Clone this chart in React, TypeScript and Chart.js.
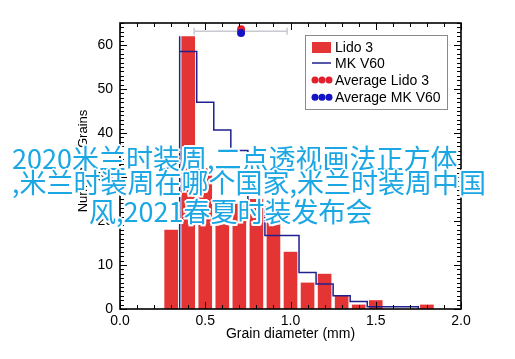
import React, { useEffect, useRef } from "react";
import { Chart, registerables } from "chart.js";

Chart.register(...registerables);

// ---- data ----
const lidoBinCenters = [0.3, 0.4, 0.5, 0.6, 0.7, 0.8, 0.9, 1.0, 1.1, 1.2, 1.3, 1.4, 1.5, 1.8];
const lidoCounts = [18, 62, 32, 23, 24, 25, 23, 13, 6, 8, 3, 1, 2, 1];

const mkBinCenters = [0.4, 0.5, 0.6, 0.7, 0.8, 0.9, 1.0, 1.1, 1.2, 1.3, 1.4, 1.5, 1.6, 1.7];
const mkCounts = [62, 58.5, 47, 40.7, 36, 23.2, 16.7, 16.7, 8.3, 5.7, 3, 1.7, 0.5, 0.5];
const binWidth = 0.1;

const averageNames = ["Average Lido 3", "Average MK V60"];
const averageDiameters = [0.71, 0.71];
const averageHeights = [63.6, 62.7];
const averageRange = [0.435, 0.98];
const averageRangeHeight = 63.1;

const legendLabels = ["Lido 3", "MK V60", "Average Lido 3", "Average MK V60"];
const xTitle = "Grain diameter (mm)";
const yTitle = "Number of Grains";
const overlayLines = [
  "2020米兰时装周,二点透视画法正方体",
  ",米兰时装周在哪个国家,米兰时装周中国",
  "风,2021春夏时装发布会",
];

const RED = "#e53434";
const NAVY = "#20208e";
const DOT_RED = "#e0202c";
const DOT_BLUE = "#1414c4";
const FONT = "'Liberation Sans', Arial, Helvetica, sans-serif";

const framePlugin = {
  id: "frameTicks",
  afterDatasetsDraw(chart: any) {
    const { ctx, chartArea } = chart;
    const xs = chart.scales.x;
    const ys = chart.scales.y;
    ctx.save();
    ctx.strokeStyle = "#000";
    ctx.lineWidth = 1;
    ctx.beginPath();
    for (let i = 0; i <= 65; i++) {
      const py = Math.round(ys.getPixelForValue(i)) + 0.5;
      const len = i % 10 === 0 ? 7 : 4;
      ctx.moveTo(chartArea.left, py);
      ctx.lineTo(chartArea.left + len, py);
      ctx.moveTo(chartArea.right, py);
      ctx.lineTo(chartArea.right - len, py);
    }
    for (let i = 0; i <= 20; i++) {
      const px = Math.round(xs.getPixelForValue(i / 10)) + 0.5;
      const len = i % 5 === 0 ? 7 : 4;
      ctx.moveTo(px, chartArea.bottom);
      ctx.lineTo(px, chartArea.bottom - len);
      ctx.moveTo(px, chartArea.top);
      ctx.lineTo(px, chartArea.top + len);
    }
    ctx.stroke();
    ctx.lineWidth = 1.6;
    ctx.strokeRect(chartArea.left, chartArea.top, chartArea.right - chartArea.left, chartArea.bottom - chartArea.top);
    ctx.restore();
  },
  afterDraw(chart: any) {
    const { ctx, chartArea } = chart;
    ctx.save();
    // axis titles
    ctx.fillStyle = "#000";
    ctx.font = `14px ${FONT}`;
    ctx.textAlign = "center";
    ctx.textBaseline = "middle";
    ctx.fillText(xTitle, (chartArea.left + chartArea.right) / 2, chartArea.bottom + 25);
    ctx.save();
    ctx.translate(chartArea.left - 37, chartArea.top + 138);
    ctx.rotate(-Math.PI / 2);
    ctx.font = `13px ${FONT}`;
    ctx.fillText(yTitle, 0, 0);
    ctx.restore();

    // legend
    const bx = chartArea.right - 156;
    const by = chartArea.top + 12;
    const bw = 142;
    const bh = 74;
    ctx.fillStyle = "#fff";
    ctx.fillRect(bx, by, bw, bh);
    ctx.strokeStyle = "#8a8a8a";
    ctx.lineWidth = 1;
    ctx.strokeRect(bx + 0.5, by + 0.5, bw, bh);
    const rows = [12.5, 28, 45, 62.3];
    const sx = bx + 7;
    ctx.font = `14px ${FONT}`;
    ctx.textAlign = "left";
    legendLabels.forEach((lab, i) => {
      const cy = by + rows[i];
      if (i === 0) {
        ctx.fillStyle = RED;
        ctx.fillRect(sx, cy - 5.5, 19, 11);
      } else if (i === 1) {
        ctx.strokeStyle = NAVY;
        ctx.lineWidth = 1.5;
        ctx.beginPath();
        ctx.moveTo(sx, cy);
        ctx.lineTo(sx + 19, cy);
        ctx.stroke();
      } else {
        ctx.fillStyle = i === 2 ? DOT_RED : DOT_BLUE;
        for (let k = 0; k < 3; k++) {
          ctx.beginPath();
          ctx.arc(sx + 3 + k * 7, cy, 3.5, 0, Math.PI * 2);
          ctx.fill();
        }
      }
      ctx.fillStyle = "#000";
      ctx.fillText(lab, sx + 23, cy + 1);
    });
    ctx.restore();
  },
};

function buildSteps() {
  const half = binWidth / 2;
  const pts: { x: number; y: number }[] = [];
  pts.push({ x: mkBinCenters[0] - half, y: 0 });
  mkBinCenters.forEach((c, i) => pts.push({ x: c - half, y: mkCounts[i] }));
  const last = mkBinCenters.length - 1;
  pts.push({ x: mkBinCenters[last] + half, y: mkCounts[last] });
  pts.push({ x: mkBinCenters[last] + half, y: 0 });
  return pts;
}

export default function App() {
  const ref = useRef<HTMLCanvasElement | null>(null);
  useEffect(() => {
    if (!ref.current) return;
    const chart = new Chart(ref.current, {
      type: "bar",
      data: {
        datasets: [
          {
            type: "bar",
            label: "Lido 3",
            data: lidoBinCenters.map((x, i) => ({ x, y: lidoCounts[i] })),
            backgroundColor: RED,
            borderWidth: 0,
            barPercentage: 0.8,
            categoryPercentage: 1,
            order: 5,
          } as any,
          {
            type: "line",
            label: "MK V60",
            data: buildSteps(),
            stepped: "after",
            borderColor: NAVY,
            borderWidth: 1.5,
            pointRadius: 0,
            fill: false,
            order: 4,
          } as any,
          {
            type: "line",
            label: "range",
            data: averageRange.map((x) => ({ x, y: averageRangeHeight })),
            borderColor: "#c9c9d2",
            borderWidth: 1.5,
            pointStyle: "line",
            rotation: 90,
            pointRadius: 3.5,
            pointBorderColor: "#c9c9d2",
            pointBorderWidth: 1.5,
            clip: false,
            order: 3,
          } as any,
          {
            type: "line",
            label: averageNames[0],
            data: [{ x: averageDiameters[0], y: averageHeights[0] }],
            showLine: false,
            pointRadius: 4,
            pointBackgroundColor: DOT_RED,
            pointBorderColor: DOT_RED,
            pointBorderWidth: 0,
            clip: false,
            order: 2,
          } as any,
          {
            type: "line",
            label: averageNames[1],
            data: [{ x: averageDiameters[1], y: averageHeights[1] }],
            showLine: false,
            pointRadius: 4,
            pointBackgroundColor: DOT_BLUE,
            pointBorderColor: DOT_BLUE,
            pointBorderWidth: 0,
            clip: false,
            order: 1,
          } as any,
        ],
      },
      options: {
        animation: false,
        responsive: false,
        devicePixelRatio: 1,
        layout: { padding: { top: 23, right: 54, left: 0, bottom: 0 } },
        plugins: { legend: { display: false }, tooltip: { enabled: false } },
        events: [],
        scales: {
          x: {
            type: "linear",
            min: 0,
            max: 2,
            offset: false,
            grid: { display: false, drawTicks: false },
            border: { display: false },
            ticks: {
              stepSize: 0.5,
              includeBounds: false,
              padding: 4,
              color: "#000",
              font: { family: FONT, size: 14 },
              maxRotation: 0,
              callback: (v: any) => Number(v).toFixed(1),
            },
            afterFit: (s: any) => {
              s.height = 50;
            },
          },
          y: {
            type: "linear",
            min: 0,
            max: 65,
            grid: { display: false, drawTicks: false },
            border: { display: false },
            ticks: {
              stepSize: 10,
              includeBounds: false,
              padding: 7,
              color: "#000",
              font: { family: FONT, size: 14 },
            },
            afterFit: (s: any) => {
              s.width = 120;
            },
          },
        },
      } as any,
      plugins: [framePlugin],
    });
    return () => chart.destroy();
  }, []);

  const overlayPos = [
    { left: 12, top: 143 },
    { left: 12, top: 167 },
    { left: 89, top: 196 },
  ];
  const outline =
    "-2px 0 0 #fff, 2px 0 0 #fff, 0 -2px 0 #fff, 0 2px 0 #fff, -1.5px -1.5px 0 #fff, 1.5px -1.5px 0 #fff, -1.5px 1.5px 0 #fff, 1.5px 1.5px 0 #fff";

  return (
    <div style={{ position: "absolute", left: 0, top: 0, width: 515, height: 359, background: "#fff", overflow: "hidden" }}>
      <canvas ref={ref} width={515} height={359} style={{ position: "absolute", left: 0, top: 0 }} />
      {overlayLines.map((t, i) => (
        <div
          key={i}
          style={{
            position: "absolute",
            left: overlayPos[i].left,
            top: overlayPos[i].top,
            whiteSpace: "nowrap",
            fontFamily: "'Noto Sans CJK SC', sans-serif",
            fontSize: 27,
            lineHeight: "30px",
            color: "#1ba6e4",
            textShadow: outline,
          }}
        >
          {t}
        </div>
      ))}
    </div>
  );
}
